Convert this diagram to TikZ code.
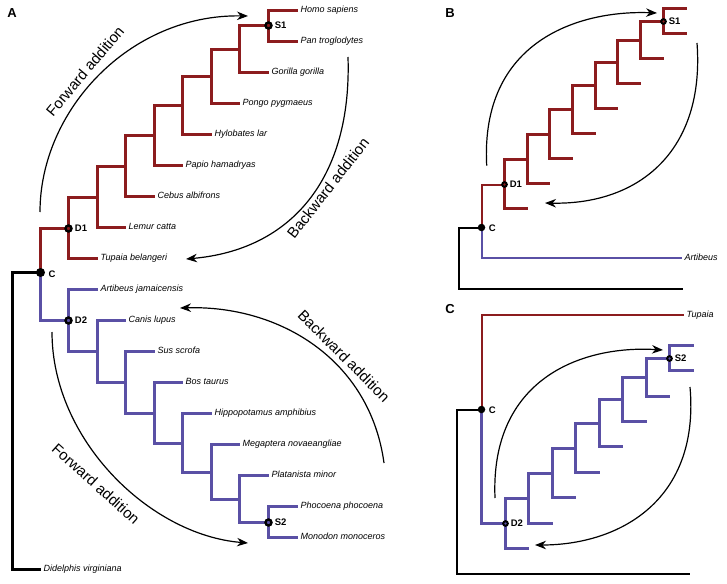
\documentclass[tikz,border=0pt]{standalone}
\usepackage{fontspec}
\setmainfont{Liberation Sans}
\usetikzlibrary{arrows.meta}
\definecolor{tred}{RGB}{140,28,30}
\definecolor{tblue}{RGB}{90,80,165}
\begin{document}
\begin{tikzpicture}[x=1pt,y=-1pt,
  rb/.style={draw=tred,line width=3pt},
  bb/.style={draw=tblue,line width=3pt},
  kb/.style={draw=black,line width=3pt},
  thinr/.style={draw=tred,line width=2pt},
  thinb/.style={draw=tblue,line width=2pt},
  think/.style={draw=black,line width=2pt},
  tip/.style={font=\fontsize{9}{10}\selectfont\itshape, anchor=west, inner xsep=3pt, inner ysep=0pt, text height=6.5pt, text depth=1.8pt},
  lab/.style={font=\fontsize{9.5}{10}\selectfont\bfseries, anchor=west, inner sep=0.8pt},
  solidnode/.style={circle, fill=black, inner sep=0pt, minimum size=#1},
  ringnode/.style={circle, draw=black, line width=2.4pt, inner sep=0pt, minimum size=#1},
  arcline/.style={line width=1.2pt, -{Stealth[length=11pt,width=8.5pt]}},
  txt/.style={font=\fontsize{15}{16}\selectfont},
  panel/.style={font=\fontsize{13}{14}\selectfont\bfseries}
]
\useasboundingbox (0,0) rectangle (727,583);

% ================= Panel A =================
\node[panel] (pA) at (12,13) {A};
\coordinate (C) at (40.5,272.5);
\coordinate (D1) at (68.5,228.5);
\coordinate (r2) at (97.5,197.5);
\coordinate (r3) at (125.5,166.5);
\coordinate (r4) at (154.5,135.5);
\coordinate (r5) at (182.5,105.5);
\coordinate (r6) at (211.5,76.5);
\coordinate (r7) at (239.5,49.5);
\coordinate (S1) at (268.5,25.5);
\node[tip] (homo) at (297.5,10.5) {Homo sapiens};
\node[tip] (pan) at (297.5,41.5) {Pan troglodytes};
\node[tip] (gor) at (268.5,72.5) {Gorilla gorilla};
\node[tip] (pon) at (239.5,103.5) {Pongo pygmaeus};
\node[tip] (hyl) at (211.5,134.5) {Hylobates lar};
\node[tip] (pap) at (182.5,165.5) {Papio hamadryas};
\node[tip] (ceb) at (154.5,196.5) {Cebus albifrons};
\node[tip] (lem) at (125.5,227.5) {Lemur catta};
\node[tip] (tup) at (97.5,258.5) {Tupaia belangeri};
\coordinate (D2) at (68.5,320.5);
\coordinate (m2) at (97.5,351.5);
\coordinate (m3) at (125.5,382.5);
\coordinate (m4) at (154.5,413.5);
\coordinate (m5) at (182.5,443.5);
\coordinate (m6) at (211.5,472.5);
\coordinate (m7) at (239.5,499.5);
\coordinate (S2) at (268.5,522.5);
\node[tip] (art) at (97.5,289.5) {Artibeus jamaicensis};
\node[tip] (can) at (125.5,320.5) {Canis lupus};
\node[tip] (sus) at (154.5,351.5) {Sus scrofa};
\node[tip] (bos) at (182.5,382.5) {Bos taurus};
\node[tip] (hip) at (211.5,413.5) {Hippopotamus amphibius};
\node[tip] (meg) at (239.5,444.5) {Megaptera novaeangliae};
\node[tip] (pla) at (268.5,475.5) {Platanista minor};
\node[tip] (pho) at (297.5,506.5) {Phocoena phocoena};
\node[tip] (mon) at (297.5,537.5) {Monodon monoceros};
\coordinate (rootA) at (12.5,272.5);
\node[tip] (did) at (40.5,569.5) {Didelphis virginiana};

\draw[rb] (C) |- (D1);
\draw[rb] (D1) |- (tup.west);
\draw[rb] (D1) |- (r2);
\draw[rb] (r2) |- (lem.west);
\draw[rb] (r2) |- (r3);
\draw[rb] (r3) |- (ceb.west);
\draw[rb] (r3) |- (r4);
\draw[rb] (r4) |- (pap.west);
\draw[rb] (r4) |- (r5);
\draw[rb] (r5) |- (hyl.west);
\draw[rb] (r5) |- (r6);
\draw[rb] (r6) |- (pon.west);
\draw[rb] (r6) |- (r7);
\draw[rb] (r7) |- (gor.west);
\draw[rb] (r7) |- (S1);
\draw[rb] (S1) |- (homo.west);
\draw[rb] (S1) |- (pan.west);
\draw[bb] (C) |- (D2);
\draw[bb] (D2) |- (art.west);
\draw[bb] (D2) |- (m2);
\draw[bb] (m2) |- (can.west);
\draw[bb] (m2) |- (m3);
\draw[bb] (m3) |- (sus.west);
\draw[bb] (m3) |- (m4);
\draw[bb] (m4) |- (bos.west);
\draw[bb] (m4) |- (m5);
\draw[bb] (m5) |- (hip.west);
\draw[bb] (m5) |- (m6);
\draw[bb] (m6) |- (meg.west);
\draw[bb] (m6) |- (m7);
\draw[bb] (m7) |- (pla.west);
\draw[bb] (m7) |- (S2);
\draw[bb] (S2) |- (pho.west);
\draw[bb] (S2) |- (mon.west);
\draw[kb] (C) -- (rootA) |- (did.west);

\node[solidnode=9pt] (Cn) at (C) {};
\node[ringnode=6pt, fill=tred] (D1n) at (D1) {};
\node[ringnode=6pt, fill=tred] (S1n) at (S1) {};
\node[ringnode=6pt, fill=tblue] (D2n) at (D2) {};
\node[ringnode=6pt, fill=tblue] (S2n) at (S2) {};
\node[lab] at ([xshift=2.5pt,yshift=-2pt]Cn.east) {C};
\node[lab] at ([xshift=1.2pt]D1n.east) {D1};
\node[lab] at ([xshift=1.2pt]S1n.east) {S1};
\node[lab] at ([xshift=1.2pt]D2n.east) {D2};
\node[lab] at ([xshift=1.2pt]S2n.east) {S2};

\coordinate (a1s) at (40,212);   \coordinate (a1e) at (248,16);
\coordinate (a2s) at (348,57);   \coordinate (a2e) at (186,259);
\coordinate (a3s) at (384,463);  \coordinate (a3e) at (180,308);
\coordinate (a4s) at (52,332);   \coordinate (a4e) at (248,543);
\draw[arcline] (a1s) .. controls (40,110) and (130,14) .. (a1e);
\draw[arcline] (a2s) .. controls (352,180) and (290,250) .. (a2e);
\draw[arcline] (a3s) .. controls (370,360) and (280,305) .. (a3e);
\draw[arcline] (a4s) .. controls (52,440) and (150,535) .. (a4e);
\node[txt, rotate=50] (fa1) at (85,71) {Forward addition};
\node[txt, rotate=52] (ba1) at (328,188) {Backward addition};
\node[txt, rotate=-45] (ba2) at (344,356) {Backward addition};
\node[txt, rotate=-42] (fa2) at (96,484) {Forward addition};

% ================= Panel B =================
\node[panel] (pB) at (450,13) {B};
\coordinate (CB) at (481.5,227.5);
\coordinate (D1b) at (504.5,184.5);
\coordinate (b2) at (527.5,159.5);
\coordinate (b3) at (549.5,134.5);
\coordinate (b4) at (572.5,109.5);
\coordinate (b5) at (595.5,85.5);
\coordinate (b6) at (617.5,62.5);
\coordinate (b7) at (640.5,40.5);
\coordinate (S1b) at (663.5,21.5);
\coordinate (bt0) at (686.5,8.5);
\coordinate (bt1) at (686.5,33.5);
\coordinate (bt2) at (663.5,58.5);
\coordinate (bt3) at (640.5,83.5);
\coordinate (bt4) at (617.5,108.5);
\coordinate (bt5) at (595.5,133.5);
\coordinate (bt6) at (572.5,158.5);
\coordinate (bt7) at (549.5,183.5);
\coordinate (bt8) at (527.5,208.5);
\draw[thinr] (CB) |- (D1b);
\draw[rb] (D1b) |- (bt8);
\draw[rb] (D1b) |- (b2);
\draw[rb] (b2) |- (bt7);
\draw[rb] (b2) |- (b3);
\draw[rb] (b3) |- (bt6);
\draw[rb] (b3) |- (b4);
\draw[rb] (b4) |- (bt5);
\draw[rb] (b4) |- (b5);
\draw[rb] (b5) |- (bt4);
\draw[rb] (b5) |- (b6);
\draw[rb] (b6) |- (bt3);
\draw[rb] (b6) |- (b7);
\draw[rb] (b7) |- (bt2);
\draw[rb] (b7) |- (S1b);
\draw[rb] (S1b) |- (bt0);
\draw[rb] (S1b) |- (bt1);
\node[tip] (artb) at (681.5,258) {Artibeus};
\draw[thinb] (CB) |- (artb.west);
\coordinate (rootB) at (459,227.5);
\coordinate (endB) at (683,289);
\draw[think] (CB) -- (rootB) |- (endB);
\node[solidnode=7.5pt] (CBn) at (CB) {};
\node[ringnode=4.6pt, line width=2pt, fill=tred] (D1bn) at (D1b) {};
\node[ringnode=4.6pt, line width=2pt, fill=tred] (S1bn) at (S1b) {};
\node[lab] at ([xshift=2.5pt,yshift=-1pt]CBn.east) {C};
\node[lab] at ([xshift=1pt]D1bn.east) {D1};
\node[lab] at ([xshift=1pt]S1bn.east) {S1};
\coordinate (b1s) at (486.7,165.7); \coordinate (b1e) at (657,13);
\coordinate (b2s) at (697,43);      \coordinate (b2e) at (545,203);
\draw[arcline] (b1s) .. controls (480,40) and (580,10) .. (b1e);
\draw[arcline] (b2s) .. controls (705,150) and (640,205) .. (b2e);

% ================= Panel C =================
\node[panel] (pC) at (450,309) {C};
\coordinate (CC) at (481.5,409.5);
\coordinate (D2c) at (505.5,523.5);
\coordinate (c2) at (528.5,498.5);
\coordinate (c3) at (552.5,473.5);
\coordinate (c4) at (575.5,448.5);
\coordinate (c5) at (599.5,423.5);
\coordinate (c6) at (622.5,399.5);
\coordinate (c7) at (646.5,377.5);
\coordinate (S2c) at (669.5,358.5);
\coordinate (ct0) at (693.5,345.5);
\coordinate (ct1) at (693.5,370.5);
\coordinate (ct2) at (669.5,396.5);
\coordinate (ct3) at (646.5,421.5);
\coordinate (ct4) at (622.5,446.5);
\coordinate (ct5) at (599.5,472.5);
\coordinate (ct6) at (575.5,497.5);
\coordinate (ct7) at (552.5,523.5);
\coordinate (ct8) at (528.5,548.5);
\node[tip] (tupc) at (683.5,315) {Tupaia};
\draw[thinr] (CC) |- (tupc.west);
\draw[bb] (CC) |- (D2c);
\draw[bb] (D2c) |- (ct8);
\draw[bb] (D2c) |- (c2);
\draw[bb] (c2) |- (ct7);
\draw[bb] (c2) |- (c3);
\draw[bb] (c3) |- (ct6);
\draw[bb] (c3) |- (c4);
\draw[bb] (c4) |- (ct5);
\draw[bb] (c4) |- (c5);
\draw[bb] (c5) |- (ct4);
\draw[bb] (c5) |- (c6);
\draw[bb] (c6) |- (ct3);
\draw[bb] (c6) |- (c7);
\draw[bb] (c7) |- (ct2);
\draw[bb] (c7) |- (S2c);
\draw[bb] (S2c) |- (ct0);
\draw[bb] (S2c) |- (ct1);
\coordinate (rootC) at (457,409.5);
\coordinate (endC) at (690,574);
\draw[think] (CC) -- (rootC) |- (endC);
\node[solidnode=7.5pt] (CCn) at (CC) {};
\node[ringnode=4.6pt, line width=2pt, fill=tblue] (D2cn) at (D2c) {};
\node[ringnode=4.6pt, line width=2pt, fill=tblue] (S2cn) at (S2c) {};
\node[lab] at ([xshift=2.5pt,yshift=-1pt]CCn.east) {C};
\node[lab] at ([xshift=1pt]D2cn.east) {D2};
\node[lab] at ([xshift=1pt]S2cn.east) {S2};
\coordinate (c1s) at (495,498);  \coordinate (c1e) at (663,350);
\coordinate (c2s) at (690,387);  \coordinate (c2e) at (535,545);
\draw[arcline] (c1s) .. controls (490,380) and (580,345) .. (c1e);
\draw[arcline] (c2s) .. controls (700,500) and (620,545) .. (c2e);
\end{tikzpicture}
\end{document}
